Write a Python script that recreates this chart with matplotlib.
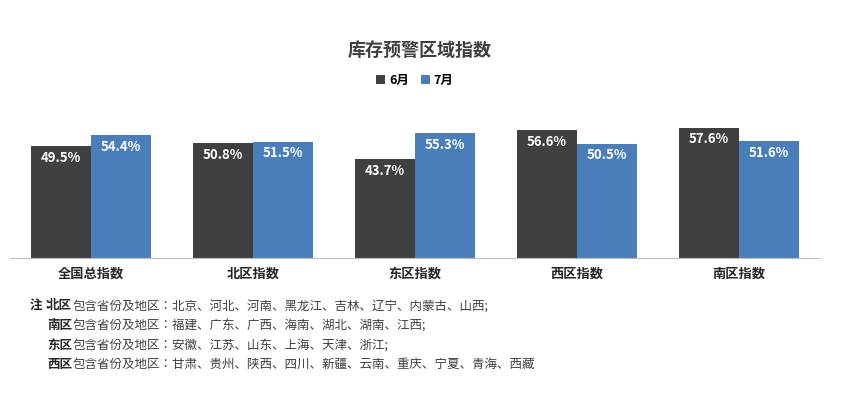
import matplotlib.pyplot as plt
import numpy as np

plt.rcParams['font.family'] = ['Noto Sans CJK SC', 'Noto Sans CJK JP', 'Noto Sans CJK TC',
                               'Noto Sans CJK KR', 'DejaVu Sans']

categories = ['全国总指数', '北区指数', '东区指数', '西区指数', '南区指数']
june = [49.5, 50.8, 43.7, 56.6, 57.6]
july = [54.4, 51.5, 55.3, 50.5, 51.6]
note_regions = ['北区', '南区', '东区', '西区']
note_texts = ['包含省份及地区：北京、河北、河南、黑龙江、吉林、辽宁、内蒙古、山西;',
              '包含省份及地区：福建、广东、广西、海南、湖北、湖南、江西;',
              '包含省份及地区：安徽、江苏、山东、上海、天津、浙江;',
              '包含省份及地区：甘肃、贵州、陕西、四川、新疆、云南、重庆、宁夏、青海、西藏']

c6 = '#404040'
c7 = '#4a7ebb'

fig = plt.figure(figsize=(8.52, 4.08), dpi=100)
ax = fig.add_axes([10/852, 150/408, 810/852, 140/408])
x = np.arange(len(categories))
w = 0.37
b1 = ax.bar(x - w/2, june, w, color=c6)
b2 = ax.bar(x + w/2, july, w, color=c7)
for bars, vals in ((b1, june), (b2, july)):
    for r, v in zip(bars, vals):
        ax.text(r.get_x() + r.get_width()/2, v - 2, f'{v}%', ha='center', va='top',
                color='white', fontsize=9.5, fontweight='bold')
ax.set_ylim(0, 62)
ax.set_xlim(-0.5, len(categories) - 0.5)
ax.set_yticks([])
ax.set_xticks(x)
ax.set_xticklabels(categories, fontsize=9.5, fontweight='bold', color='#262626')
ax.tick_params(axis='x', length=0, pad=6)
for s in ['top', 'right', 'left']:
    ax.spines[s].set_visible(False)
ax.spines['bottom'].set_color('#bfbfbf')

fig.text(420/852, 1 - 50/408, '库存预警区域指数', ha='center', va='center',
         fontsize=13, fontweight='bold', color='#404040')
fig.legend([b1, b2], ['6月', '7月'], loc='center', bbox_to_anchor=(415/852, 1 - 80/408),
           ncol=2, frameon=False, handlelength=0.7, handleheight=0.7,
           columnspacing=1.0, handletextpad=0.3, prop={'weight': 'bold', 'size': 9})

fig.text(30/852, 1 - 306/408, '注：', fontsize=9, fontweight='bold', color='#262626', va='center')
for i, (reg, txt) in enumerate(zip(note_regions, note_texts)):
    y = 1 - (306 + 19.5*i)/408
    fig.text(47/852, y, reg, fontsize=9, fontweight='bold', color='#262626', va='center')
    fig.text(73/852, y, txt, fontsize=9, color='#404040', va='center')

fig.savefig('out.png', dpi=100)
